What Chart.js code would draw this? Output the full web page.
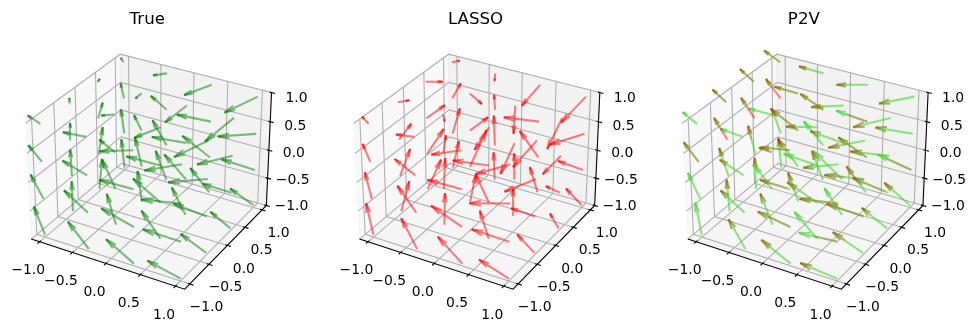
<!DOCTYPE html>
<html>
<head>
<meta charset="utf-8">
<style>
    html, body { margin: 0; padding: 0; background: #fff; }
    canvas { position: absolute; top: 0; }
</style>
<script src="https://cdn.jsdelivr.net/npm/chart.js@4"></script>
</head>
<body>
<canvas id="panel0" width="328" height="332" style="left:0"></canvas>
<canvas id="panel1" width="328" height="332" style="left:328px"></canvas>
<canvas id="panel2" width="320" height="332" style="left:656px"></canvas>
<script>
const titles = ["True", "LASSO", "P2V"];
const gridXY = [-1, -1 / 3, 1 / 3, 1];
const gridZ = [-0.96, -0.32, 0.32, 0.96];
const tickValues = [-1, -0.5, 0, 0.5, 1];
const tickLabels = ["\u22121.0", "\u22120.5", "0.0", "0.5", "1.0"];

// arrow components, order: y, x, z (one row per y)
const trueDx = [
    -34, -39, -41, -38, -63, -72, -74, -70, -84, -98, -103, -101, -100, -115, -121, -113,
    -4, -5, -2, -1, -28, -40, -47, -40, -57, -83, -103, -81, -77, -101, -119, -104,
    8, 12, 14, 8, -12, -20, -23, -18, -41, -65, -104, -66, -60, -87, -107, -87,
    -10, -10, -10, -8, -32, -42, -48, -42, -57, -83, -102, -83, -70, -100, -115, -100,
];
const trueDy = [
    -85, -73, -50, -25, -82, -67, -44, -14, -73, -56, -28, 3, -54, -37, -12, 19,
    -90, -79, -50, -13, -93, -88, -38, 3, -84, -72, -27, 32, -57, -38, 10, 50,
    -90, -81, -47, -8, -92, -87, -46, 15, -82, -75, -18, 51, -50, -27, 26, 71,
    -85, -72, -45, -13, -87, -75, -42, 6, -73, -65, -21, 31, -50, -32, 8, 48,
];
const lassoDx = [
    -22, -21, -23, -20, -48, -57, -62, -55, -74, -93, -103, -91, -90, -113, -122, -105,
    24, 30, 37, 34, 2, 4, 8, 6, -27, -40, -109, -44, -52, -73, -95, -72,
    40, 50, 56, 51, 16, 50, 55, 37, -2, 0, -43, -5, -26, -42, -55, -45,
    18, 22, 26, 24, -3, -3, -3, -2, -23, -56, -106, -55, -47, -75, -105, -75,
];
const lassoDy = [
    -95, -80, -54, -21, -92, -81, -49, -7, -81, -64, -28, 13, -57, -37, -1, 30,
    -90, -81, -48, -6, -95, -93, -51, 20, -84, -85, -15, 68, -55, -25, 38, 80,
    -88, -76, -40, 0, -78, -110, -40, 32, -78, -78, 93, 85, -45, -19, 55, 93,
    -80, -75, -45, -5, -82, -89, -45, 22, -76, -80, -13, 63, -50, -27, 33, 78,
];
const p2vDx = [
    -19, -37, -45, -43, -51, -72, -72, -67, -88, -98, -90, -88, -111, -117, -116, -106,
    -9, -28, -40, -41, -37, -52, -38, -67, -68, -90, -101, -94, -90, -111, -120, -111,
    -4, -22, -41, -42, -31, -62, -83, -71, -53, -88, -98, -97, -76, -107, -117, -112,
    -8, -28, -44, -48, -33, -58, -69, -74, -58, -85, -94, -95, -77, -102, -112, -106,
];
const p2vDy = [
    -97, -78, -59, -35, -89, -67, -47, -24, -71, -46, -28, -9, -47, -27, -14, 11,
    -95, -84, -65, -38, -93, -70, -14, -18, -80, -61, -35, -2, -62, -38, -12, 22,
    -93, -85, -62, -38, -87, -83, -66, -20, -80, -85, -35, 5, -62, -44, -13, 28,
    -88, -75, -58, -35, -87, -72, -48, -21, -78, -60, -33, 0, -67, -47, -19, 21,
];
// part of each arrow that is red: > 0 counted from the head, < 0 counted from the tail
const p2vRed = [
    0, 0, 1, 0, 0.15, 0.15, 0.1, 0, 0.3, 1, 0.9, 1, 0.2, -0.6, 1, 0.15,
    0.3, 0.3, 1, 1, 0.1, 0, 1, 0, 0, 0.3, 0, 0.3, 0.4, 1, 0.5, 0.3,
    0.2, 0.5, 1, 1, 0.3, 0.3, 1, 1, 0, 0, 0.1, 0.4, 0.15, 0.9, 0.2, 0.2,
    0.2, 0.3, 1, 1, 0.3, 0, 1, 0.3, 0.5, 1, -0.7, 0.3, 0.3, -0.8, 0.1, 0.1,
];
// part of each arrow that is lime, counted from the head
const p2vLime = [
    1, 1, 1, 1, 1, 1, 1, 1, 1, 1, 1, 1, 1, 1, 1, 1,
    1, 1, 0.4, 1, 1, 1, 1, 1, 1, 1, 1, 1, 1, 1, 1, 1,
    1, 1, 0.4, 1, 1, 1, 1, 1, 1, 1, 1, 1, 1, 1, 1, 1,
    1, 1, 0.4, 1, 1, 1, 1, 1, 1, 1, 1, 1, 1, 1, 1, 1,
];

const GREEN = "rgba(0,128,0,0.5)";
const RED = "rgba(255,0,0,0.5)";
const LIME = "rgba(70,215,50,0.6)";
const RED_SOFT = "rgba(255,0,0,0.22)";
const RED_ALONE = "rgba(255,0,0,0.3)";

const XY_LIM = 1.13;       // x and y axes run a bit past the ticks
const BOX_XY = 0.595;      // half size of the 4:4:3 box
const BOX_Z = 0.4464;
const READ_UNIT = 4434;    // picture reading units per view unit
const HEAD_RATIO = 0.3;
const HEAD_ANGLE = (12 * Math.PI) / 180;

// elev 30, azim -60, camera distance 10
function project(x, y, z) {
    const dx = (x / XY_LIM) * BOX_XY;
    const dy = (y / XY_LIM) * BOX_XY;
    const dz = z * BOX_Z;
    const right = 0.866 * dx + 0.5 * dy;
    const up = -0.25 * dx + 0.433 * dy + 0.866 * dz;
    const depth = 10 - (0.433 * dx - 0.75 * dy + 0.5 * dz);
    return { x: right / depth, y: up / depth };
}

function line(points, color, width) {
    return { data: points, showLine: true, borderColor: color, borderWidth: width, pointRadius: 0, fill: false, clip: false };
}

function polyline(corners, color, width) {
    return line(corners.map((c) => project(c[0], c[1], c[2])), color, width);
}

function frameDatasets() {
    const L = XY_LIM;
    const sets = [];
    const pane = (corners, color) => {
        const ds = polyline(corners, color, 1);
        ds.fill = "shape";
        ds.backgroundColor = color;
        sets.push(ds);
    };
    pane([[-L, -L, -1], [-L, L, -1], [-L, L, 1], [-L, -L, 1], [-L, -L, -1]], "rgba(242,242,242,0.5)");
    pane([[-L, L, -1], [L, L, -1], [L, L, 1], [-L, L, 1], [-L, L, -1]], "rgba(230,230,230,0.5)");
    pane([[-L, -L, -1], [L, -L, -1], [L, L, -1], [-L, L, -1], [-L, -L, -1]], "rgba(236,236,236,0.5)");

    tickValues.forEach((t) => {
        sets.push(polyline([[t, -L, -1], [t, L, -1], [t, L, 1]], "#b0b0b0", 1.1));
        sets.push(polyline([[L, t, -1], [-L, t, -1], [-L, t, 1]], "#b0b0b0", 1.1));
        sets.push(polyline([[-L, -L, t], [-L, L, t], [L, L, t]], "#b0b0b0", 1.1));
    });

    sets.push(polyline([[-L, -L, -1], [L, -L, -1], [L, L, -1], [L, L, 1]], "#000", 1.1));
    tickValues.forEach((t) => {
        sets.push(polyline([[t, -L - 0.05, -1], [t, -L + 0.03, -1]], "#000", 1.1));
        sets.push(polyline([[L + 0.05, t, -1], [L - 0.03, t, -1]], "#000", 1.1));
        sets.push(polyline([[L + 0.05, L, t], [L - 0.03, L, t]], "#000", 1.1));
    });
    return sets;
}

function forEachArrow(callback) {
    let n = 0;
    gridXY.forEach((y) => {
        gridXY.forEach((x) => {
            gridZ.forEach((z) => {
                callback(project(x, y, z), n);
                n++;
            });
        });
    });
}

// shaft from fraction `from` to fraction `to` of the arrow, barbs when it reaches the head
function arrowDatasets(tail, dx, dy, color, from, to) {
    const vx = dx / READ_UNIT;
    const vy = -dy / READ_UNIT;
    const head = { x: tail.x + vx, y: tail.y + vy };
    const sets = [line([
        { x: tail.x + vx * from, y: tail.y + vy * from },
        { x: tail.x + vx * to, y: tail.y + vy * to },
    ], color, 2.1)];
    if (to === 1) {
        [HEAD_ANGLE, -HEAD_ANGLE].forEach((a) => {
            const bx = -vx * HEAD_RATIO;
            const by = -vy * HEAD_RATIO;
            sets.push(line([head, {
                x: head.x + bx * Math.cos(a) - by * Math.sin(a),
                y: head.y + bx * Math.sin(a) + by * Math.cos(a),
            }], color, 1.9));
        });
    }
    return sets;
}

function singleColor(dxs, dys, color) {
    const sets = [];
    forEachArrow((tail, n) => {
        sets.push(...arrowDatasets(tail, dxs[n], dys[n], color, 0, 1));
    });
    return sets;
}

function twoColor() {
    const sets = [];
    forEachArrow((tail, n) => {
        sets.push(...arrowDatasets(tail, p2vDx[n], p2vDy[n], LIME, 1 - p2vLime[n], 1));
    });
    forEachArrow((tail, n) => {
        const red = p2vRed[n];
        if (red > 0) {
            sets.push(...arrowDatasets(tail, p2vDx[n], p2vDy[n], RED_SOFT, 1 - red, 1));
        } else if (red < 0) {
            sets.push(...arrowDatasets(tail, p2vDx[n], p2vDy[n], RED_SOFT, 0, -red));
        }
        if (p2vLime[n] < 1) {
            // the stretch with no lime under it needs more red to read as red
            sets.push(...arrowDatasets(tail, p2vDx[n], p2vDy[n], RED_ALONE, 0, 1 - p2vLime[n]));
        }
    });
    return sets;
}

const tickTextPlugin = {
    id: "tickText",
    afterDatasetsDraw(chart) {
        const L = XY_LIM;
        const { ctx, scales } = chart;
        const put = (p, text, ox, oy) => {
            ctx.fillText(text, scales.x.getPixelForValue(p.x) + ox, scales.y.getPixelForValue(p.y) + oy);
        };
        ctx.save();
        ctx.font = '13.9px "DejaVu Sans"';
        ctx.fillStyle = "#000";
        ctx.textAlign = "center";
        ctx.textBaseline = "middle";
        tickValues.forEach((t, i) => {
            put(project(t, -L, -1), tickLabels[i], -11.5, 29);
            put(project(L, t, -1), tickLabels[i], 16.5, 23.5);
            put(project(L, L, t), tickLabels[i], 25, 3.5 + 2.5 * t);
        });
        ctx.restore();
    },
};

const arrowSets = [
    singleColor(trueDx, trueDy, GREEN),
    singleColor(lassoDx, lassoDy, RED),
    twoColor(),
];

titles.forEach((title, i) => {
    const canvas = document.getElementById(`panel${i}`);
    const left = 10.5 + i * 0.3;
    // first dataset ends up on top in Chart.js, so the order is reversed here
    const datasets = [...frameDatasets(), ...arrowSets[i]].reverse();
    new Chart(canvas, {
        type: "scatter",
        data: { datasets: datasets },
        options: {
            responsive: false,
            animation: false,
            layout: { padding: { left: left, right: canvas.width - left - 273.5, top: 0, bottom: 332 - 33 - 273.5 } },
            scales: {
                x: { type: "linear", display: false, min: -0.095, max: 0.09 },
                y: { type: "linear", display: false, min: -0.095, max: 0.09 },
            },
            plugins: {
                legend: { display: false },
                tooltip: { enabled: false },
                title: {
                    display: true,
                    text: title,
                    color: "#000",
                    font: { family: "DejaVu Sans", size: 16.67, weight: "normal" },
                    padding: { top: 10, bottom: 3 },
                },
            },
        },
        plugins: [tickTextPlugin],
    });
});
</script>
</body>
</html>
